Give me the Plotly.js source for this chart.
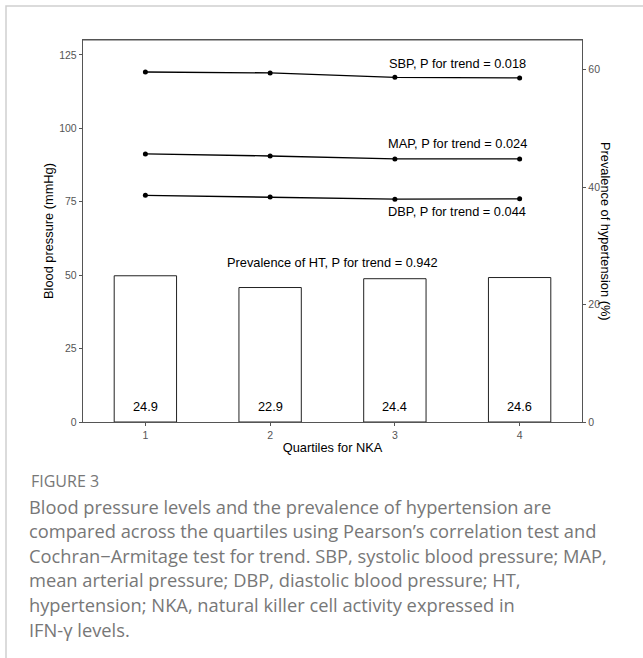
<!DOCTYPE html>
<html>
<head>
<meta charset="utf-8">
<script src="https://cdn.plot.ly/plotly-3.0.1.min.js"></script>
<style>html,body{margin:0;padding:0;background:#fff;}#chart{width:643px;height:658px;}</style>
</head>
<body>
<div id="chart"></div>
<script>
// ---- data ----
const quartiles = [1, 2, 3, 4];
const sbp = [119.2, 118.9, 117.4, 117.2];
const map = [91.3, 90.6, 89.6, 89.6];
const dbp = [77.2, 76.6, 75.9, 76.0];
const htPrevalence = [24.9, 22.9, 24.4, 24.6];
const seriesLabels = [
  {text: 'SBP, P for trend = 0.018', x: 3.5, y: 122},
  {text: 'MAP, P for trend = 0.024', x: 3.5, y: 94.7},
  {text: 'DBP, P for trend = 0.044', x: 3.5, y: 71.6},
  {text: 'Prevalence of HT, P for trend = 0.942', x: 2.5, y: 54.3}
];
const leftTicks = [0, 25, 50, 75, 100, 125];
const rightTicks = [0, 20, 40, 60];
const captionTitle = 'FIGURE 3';
const captionLines = [
  'Blood pressure levels and the prevalence of hypertension are',
  'compared across the quartiles using Pearson\u2019s correlation test and',
  'Cochran\u2212Armitage test for trend. SBP, systolic blood pressure; MAP,',
  'mean arterial pressure; DBP, diastolic blood pressure; HT,',
  'hypertension; NKA, natural killer cell activity expressed in',
  'IFN-\u03b3 levels.'
];

const W = 643, H = 658;
const px = v => v / W;
const py = v => 1 - v / H;
const font = 'Liberation Sans, Arial, sans-serif';
const capFont = 'Open Sans, Lato, sans-serif';
const lineColor = '#000';

function lineTrace(vals) {
  return {
    type: 'scatter', mode: 'lines+markers', x: quartiles, y: vals,
    xaxis: 'x', yaxis: 'y',
    line: {color: lineColor, width: 1.3},
    marker: {color: lineColor, size: 5},
    hoverinfo: 'skip', showlegend: false
  };
}

const traces = [
  {
    type: 'bar', x: quartiles, y: htPrevalence, width: 0.5,
    xaxis: 'x', yaxis: 'y2',
    marker: {color: '#fff', line: {color: '#222', width: 1}},
    hoverinfo: 'skip', showlegend: false
  },
  lineTrace(sbp), lineTrace(map), lineTrace(dbp)
];

const annotations = [];
seriesLabels.forEach(s => annotations.push({
  x: s.x, y: s.y, xref: 'x', yref: 'y', text: s.text, showarrow: false,
  font: {family: font, size: 12.8, color: '#000'}, xanchor: 'center', yanchor: 'middle'
}));
quartiles.forEach((q, i) => annotations.push({
  x: q, y: 0, xref: 'x', yref: 'y2', text: htPrevalence[i].toFixed(1), showarrow: false,
  font: {family: font, size: 12.8, color: '#000'}, xanchor: 'center', yanchor: 'bottom', yshift: 6
}));
annotations.push({
  x: px(606), y: py(231), xref: 'paper', yref: 'paper', text: 'Prevalence of hypertension (%)',
  textangle: 90, showarrow: false, font: {family: font, size: 12.8, color: '#000'},
  xanchor: 'center', yanchor: 'middle'
});
annotations.push({
  x: px(29), y: py(481), xref: 'paper', yref: 'paper', text: captionTitle, showarrow: false,
  font: {family: capFont, size: 16, color: '#777'}, xanchor: 'left', yanchor: 'middle'
});
captionLines.forEach((t, i) => annotations.push({
  x: px(27), y: py(506 + i * 24.6), xref: 'paper', yref: 'paper', text: t, showarrow: false,
  font: {family: capFont, size: 18.3, color: '#777'}, xanchor: 'left', yanchor: 'middle'
}));

const axisCommon = {
  showgrid: false, zeroline: false, showline: true, linecolor: '#555', linewidth: 1.2,
  ticks: 'outside', ticklen: 3, tickcolor: '#555', tickwidth: 1,
  tickfont: {family: font, size: 10.5, color: '#555'}
};

const layout = {
  width: W, height: H,
  margin: {l: 0, r: 0, t: 0, b: 0},
  paper_bgcolor: '#fff', plot_bgcolor: '#fff',
  xaxis: Object.assign({}, axisCommon, {
    domain: [px(83), px(582)], range: [0.5, 4.5], tickvals: quartiles, ticktext: quartiles.map(String),
    mirror: true, anchor: 'y',
    title: {text: 'Quartiles for NKA', font: {family: font, size: 12.8, color: '#000'}, standoff: 3}
  }),
  yaxis: Object.assign({}, axisCommon, {
    domain: [py(422), py(40)], range: [0, 130.1], tickvals: leftTicks, ticktext: leftTicks.map(String),
    anchor: 'x',
    title: {text: 'Blood pressure (mmHg)', font: {family: font, size: 12.8, color: '#000'}, standoff: 2}
  }),
  yaxis2: Object.assign({}, axisCommon, {
    overlaying: 'y', side: 'right', anchor: 'x', range: [0, 65.05],
    tickvals: rightTicks, ticktext: rightTicks.map(String)
  }),
  annotations: annotations,
  shapes: [
    {type: 'rect', xref: 'paper', yref: 'paper', x0: px(6), x1: px(660), y0: py(680), y1: py(6),
     line: {color: '#cfcfcf', width: 1.5}, fillcolor: 'rgba(0,0,0,0)', layer: 'below'},
    {type: 'line', xref: 'paper', yref: 'paper', x0: px(83), x1: px(582), y0: py(40), y1: py(40),
     line: {color: '#555', width: 1.2}}
  ]
};

Plotly.newPlot('chart', traces, layout, {staticPlot: true, displayModeBar: false});
</script>
</body>
</html>
